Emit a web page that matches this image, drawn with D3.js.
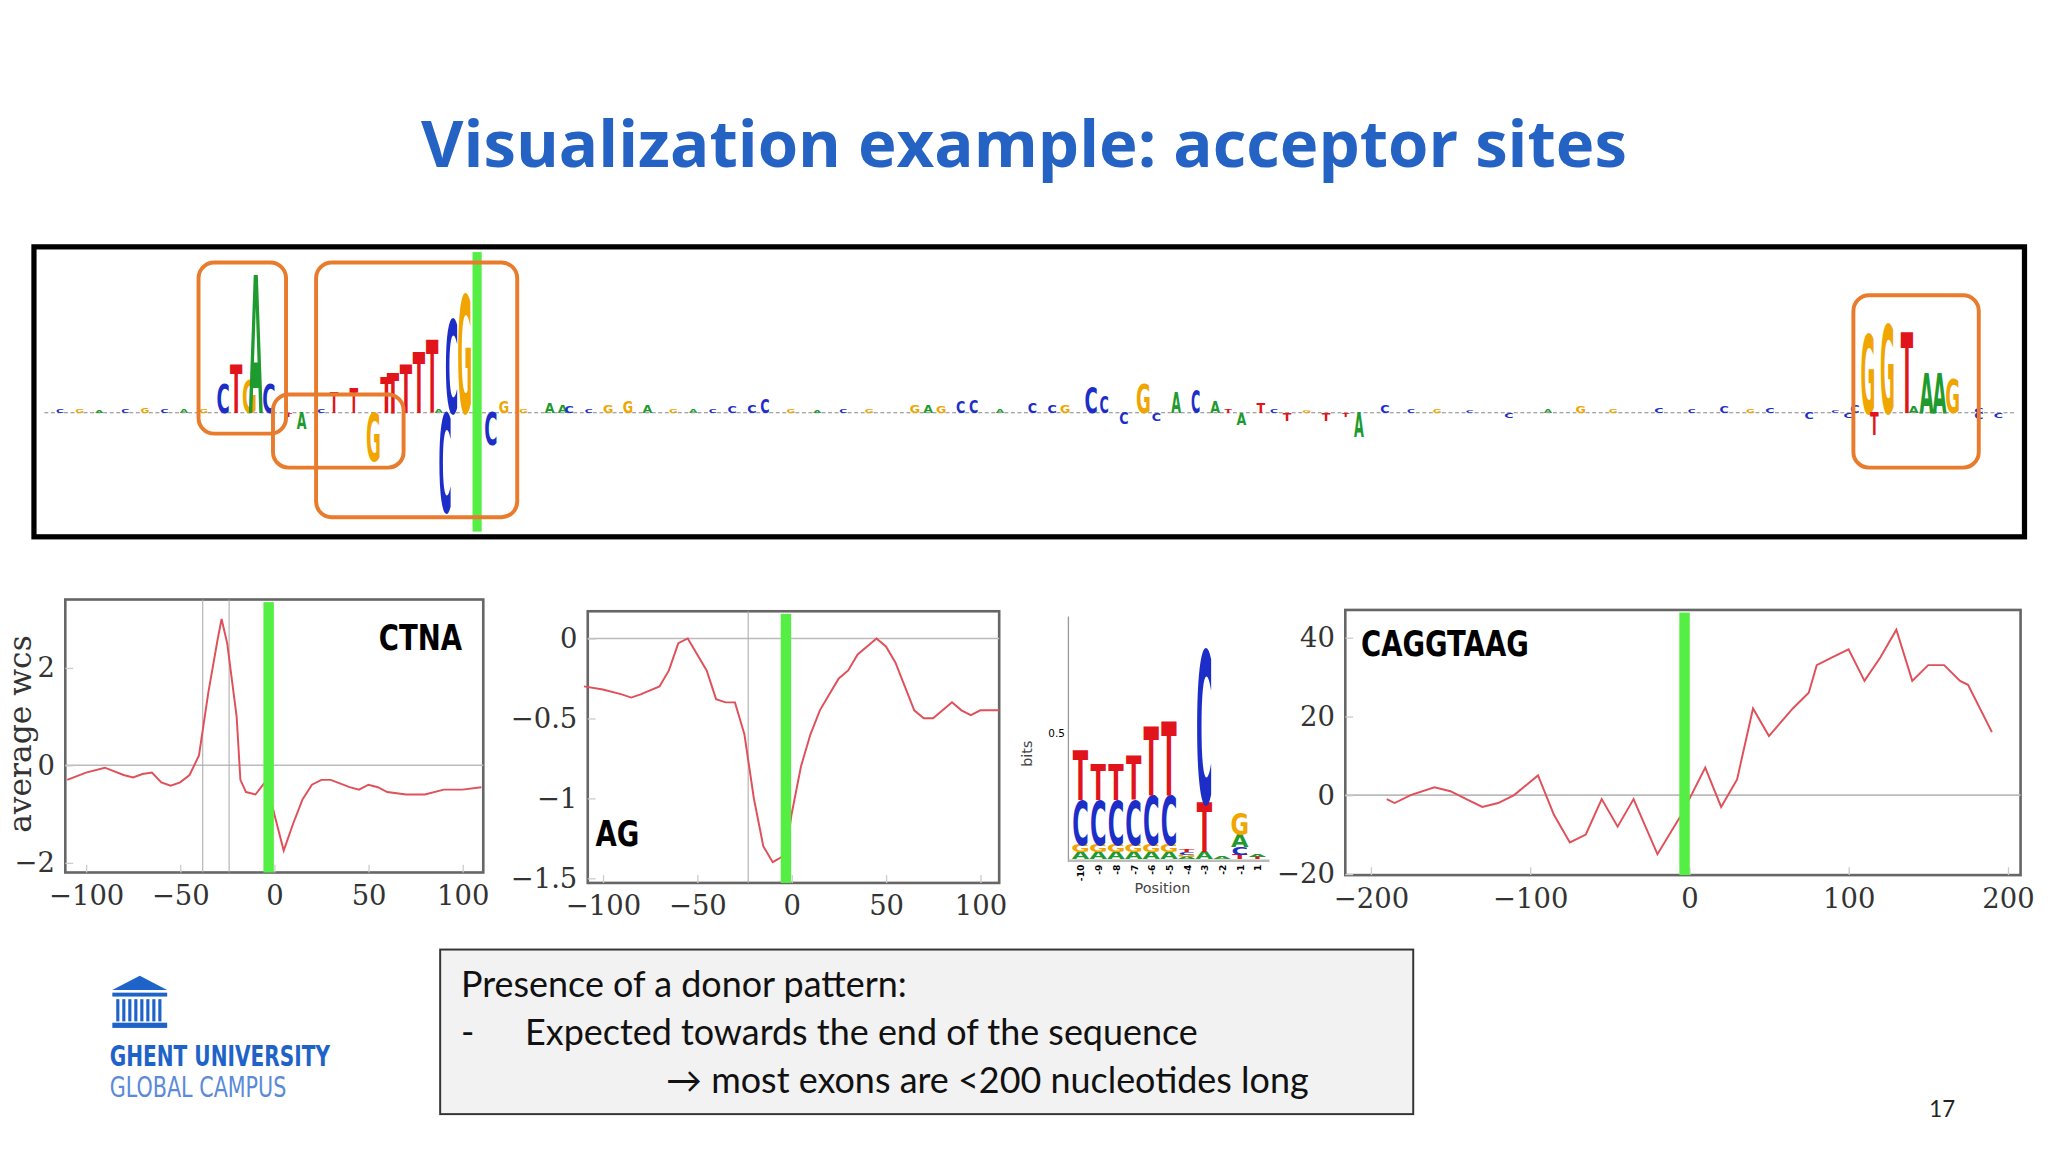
<!DOCTYPE html>
<html><head><meta charset="utf-8">
<script src="https://cdn.jsdelivr.net/npm/d3@7"></script>
<style>body{margin:0;background:#fff}svg{display:block}</style>
</head><body>
<svg id="s" width="2048" height="1152" viewBox="0 0 1568 882"></svg>
<script>
// ---------- data ----------
const title = "Visualization example: acceptor sites";
// top sequence logo: position (nt index), letter, height (bits; negative = below line)
const logoPos    = [27,29,31,32,34,39,44,47,50,52,53,55,57,59,62,64,61,68,70,77,79,80,86,89,92,105,108,110,133,135,137,140,142,151,154,156,160,162,165,168,170,173,176,179,183,186,190,196,201,205,224,235,247,257,264,270,276,286,296,299,279,282,285,288,290,292,277,280,296];
const logoLetter = ["C","T","G","A","C","A","T","T","G","T","T","T","T","T","C","G","C","C","G","A","A","C","G","G","A","C","C","C","G","A","G","C","C","C","C","G","C","C","C","G","C","A","C","A","A","T","T","T","A","C","C","G","C","C","C","C","C","A","C","C","G","G","T","A","A","G","C","T","C"];
const logoBits   = [0.35,0.6,0.4,1.7,0.35,-0.2,0.25,0.3,-0.6,0.45,0.5,0.6,0.75,0.9,1.15,1.45,-1.22,-0.4,0.15,0.12,0.1,0.08,0.1,0.14,0.1,0.08,0.1,0.18,0.1,0.1,0.08,0.15,0.16,0.12,0.1,0.1,0.32,0.2,-0.14,0.35,-0.1,0.25,0.28,0.15,-0.15,0.13,-0.1,-0.1,-0.3,0.1,-0.06,0.08,0.06,0.08,0.06,-0.08,-0.06,0.08,0.06,-0.06,0.98,1.1,1.0,0.5,0.5,0.42,0.1,-0.28,-0.08];
const fillPos = [2,5,8,12,15,18,21,24,37,42,60,73,83,96,99,102,114,118,122,126,146,181,188,193,199,209,213,218,230,240,252,261,274,289];
const fillLet = ["C","G","A","C","G","C","A","G","T","C","A","G","C","G","A","C","G","A","C","G","A","T","C","G","T","C","G","C","A","G","C","G","C","A"];
const fillBits = [0.04,0.05,0.03,0.05,0.06,0.04,0.05,0.04,-0.05,0.04,0.04,0.05,0.04,0.05,0.04,0.05,0.04,0.03,0.05,0.04,0.04,0.05,0.04,0.03,-0.05,0.04,0.05,0.03,0.04,0.04,0.05,0.04,0.03,0.04];

const ctnaX = [-110,-100,-90,-80,-75,-70,-65,-60,-55,-50,-45,-40,-35,-30,-28,-25,-20,-18,-15,-10,-5,-3,0,5,10,15,20,25,30,40,45,50,55,60,70,80,90,100,110];
const ctnaY = [-0.3,-0.15,-0.05,-0.2,-0.25,-0.18,-0.15,-0.35,-0.42,-0.35,-0.2,0.2,1.5,2.6,3.0,2.5,1.0,-0.3,-0.55,-0.6,-0.35,-0.5,-1.0,-1.75,-1.2,-0.7,-0.4,-0.3,-0.3,-0.45,-0.5,-0.4,-0.45,-0.55,-0.6,-0.6,-0.5,-0.5,-0.45];
const agX = [-110,-100,-90,-85,-80,-70,-65,-60,-55,-50,-45,-40,-35,-30,-25,-20,-15,-10,-7,-3,0,5,10,15,20,25,30,35,40,45,50,55,60,65,70,75,80,85,90,95,100,110];
const agY = [-0.3,-0.32,-0.35,-0.37,-0.35,-0.3,-0.2,-0.03,0,-0.1,-0.2,-0.38,-0.4,-0.4,-0.6,-1.0,-1.3,-1.4,-1.38,-1.35,-1.1,-0.8,-0.6,-0.45,-0.35,-0.25,-0.2,-0.1,-0.05,0,-0.05,-0.15,-0.3,-0.45,-0.5,-0.5,-0.45,-0.4,-0.45,-0.48,-0.45,-0.45];
const donX = [-190,-185,-175,-160,-150,-140,-130,-120,-110,-95,-85,-75,-65,-55,-45,-35,-20,-5,10,20,30,40,50,65,75,80,90,100,110,120,130,140,150,160,170,175,190];
const donY = [-1,-2,0,2,1,-1,-3,-2,0,5,-5,-12,-10,-1,-8,-1,-15,-5,7,-3,4,22,15,22,26,33,35,37,29,35,42,29,33,33,29,28,16];
// small logo (positions -10..-1, 1)
const sPos = ["-10","-9","-8","-7","-6","-5","-4","-3","-2","-1","1"];
const sStacks = [
 [["A",0.03],["G",0.03],["C",0.18],["T",0.2]],
 [["A",0.03],["G",0.03],["C",0.18],["T",0.15]],
 [["A",0.03],["G",0.03],["C",0.18],["T",0.15]],
 [["A",0.03],["G",0.03],["C",0.18],["T",0.18]],
 [["A",0.03],["G",0.03],["C",0.2],["T",0.28]],
 [["A",0.03],["G",0.03],["C",0.2],["T",0.3]],
 [["A",0.01],["G",0.01],["C",0.01],["T",0.01]],
 [["A",0.03],["T",0.2],["C",0.62]],
 [["A",0.01]],
 [["T",0.02],["C",0.03],["A",0.05],["G",0.09]],
 [["T",0.01],["A",0.01]]];

const colors = {A:"#1e9a2e",C:"#1d2ec8",G:"#f0a500",T:"#e0141a"};
const svg = d3.select("#s");

// ---------- title ----------
svg.append("text").attr("x",784).attr("y",128).attr("text-anchor","middle")
 .attr("font-family","Open Sans, Noto Sans, sans-serif").attr("font-weight","700").attr("font-size",50)
 .attr("fill","#2462c4").text(title);

// ---------- top logo ----------
svg.append("rect").attr("x",26).attr("y",189).attr("width",1524).attr("height",222).attr("fill","#fff").attr("stroke","#000").attr("stroke-width",4);
const xs = d3.scaleLinear().domain([0,301]).range([36,1540]);
const hs = d3.scaleLinear().domain([0,1]).range([0,62]);
const base = 316;
svg.append("line").attr("x1",34).attr("x2",1542).attr("y1",base).attr("y2",base).attr("stroke","#888").attr("stroke-width",0.8).attr("stroke-dasharray","3,2");
function letter(g,ch,x,yBase,w,h){ // yBase = bottom of letter
  if(h<0.5) h=0.5;
  g.append("text").attr("text-anchor","middle").attr("font-family","DejaVu Sans, sans-serif").attr("font-weight","700")
   .attr("font-size",100).attr("fill",colors[ch])
   .attr("transform",`translate(${x},${yBase}) scale(${w/72},${h/73})`).text(ch);
}
const lg = svg.append("g");
fillPos.forEach((p,i)=>{const h=hs(Math.abs(fillBits[i]));letter(lg,fillLet[i],xs(p),fillBits[i]>0?base:base+h,6,h);});
logoPos.forEach((p,i)=>{const b=logoBits[i];const h=hs(Math.abs(b));
  letter(lg,logoLetter[i],xs(p),b>0?base:base+h,Math.abs(b)>0.3?10:7,h);});
svg.append("rect").attr("x",xs(65.8)-3).attr("y",193).attr("width",7).attr("height",214).attr("fill","#55ee44");
const orange = "#e87b2c";
[[152,201,67,131],[209,302,100,56],[242,201,154,195],[1419,226,96,132]].forEach(b=>
 svg.append("rect").attr("x",b[0]).attr("y",b[1]).attr("width",b[2]).attr("height",b[3]).attr("rx",12)
  .attr("fill","none").attr("stroke",orange).attr("stroke-width",3));

// ---------- line plots ----------
const serif = "DejaVu Serif, Liberation Serif, serif";
function condensed(sel,sx){ // horizontal squeeze of a text
  const x=+sel.attr("x"), y=+sel.attr("y");
  sel.attr("x",0).attr("y",0).attr("transform",`translate(${x},${y}) scale(${sx},1)`);
}
function plot(o){
  const g = svg.append("g");
  const x = d3.scaleLinear().domain(o.xd).range([o.x0,o.x1]);
  const y = d3.scaleLinear().domain(o.yd).range([o.y1,o.y0]);
  g.append("rect").attr("x",o.x0).attr("y",o.y0).attr("width",o.x1-o.x0).attr("height",o.y1-o.y0).attr("fill","#fff").attr("stroke","#666").attr("stroke-width",2);
  g.append("line").attr("x1",o.x0).attr("x2",o.x1).attr("y1",y(0)).attr("y2",y(0)).attr("stroke","#bbb").attr("stroke-width",1.2);
  (o.vl||[]).forEach(v=>g.append("line").attr("x1",x(v)).attr("x2",x(v)).attr("y1",o.y0).attr("y2",o.y1).attr("stroke","#aaa").attr("stroke-width",0.8));
  const ax = g.append("g").attr("transform",`translate(0,${o.y1})`).call(d3.axisBottom(x).tickValues(o.xt).tickSize(-6).tickPadding(10).tickFormat(d=>d<0?"\u2212"+(-d):d));
  const ay = g.append("g").attr("transform",`translate(${o.x0},0)`).call(d3.axisLeft(y).tickValues(o.yt).tickSize(-6).tickPadding(8).tickFormat(d=>d<0?"\u2212"+(-d):d));
  [ax,ay].forEach(a=>{a.select(".domain").remove();a.selectAll("line").attr("stroke","#ccc");
    a.selectAll("text").attr("font-family",serif).attr("font-size",21).attr("fill","#333");});
  const xv = o.xv.filter(v=>v<=o.xd[1]);
  g.append("path").datum(xv.map((v,i)=>[v,o.yv[i]])).attr("fill","none").attr("stroke","#e0505a").attr("stroke-width",1.5)
   .attr("d",d3.line().x(d=>x(d[0])).y(d=>y(d[1])));
  g.append("rect").attr("x",x(o.gx)-4).attr("y",o.y0+2).attr("width",8).attr("height",o.y1-o.y0-2).attr("fill","#55ee44");
  const t = g.append("text").attr("x",o.lx).attr("y",o.ly).attr("font-family","DejaVu Sans, sans-serif")
   .attr("font-weight","700").attr("font-size",27).attr("fill","#000").text(o.label);
  condensed(t,0.78);
}
plot({x0:50,x1:370,y0:459,y1:668,xd:[-111,111],yd:[-2.2,3.4],xt:[-100,-50,0,50,100],yt:[-2,0,2],
  xv:ctnaX,yv:ctnaY,gx:-3,vl:[-38,-24],label:"CTNA",lx:290,ly:498});
plot({x0:450,x1:765,y0:468,y1:676,xd:[-108,110],yd:[-1.53,0.17],xt:[-100,-50,0,50,100],yt:[-1.5,-1,-0.5,0],
  xv:agX,yv:agY,gx:-3,vl:[-23],label:"AG",lx:456,ly:648});
plot({x0:1030,x1:1547,y0:467,y1:670,xd:[-216,208],yd:[-20.3,47],xt:[-200,-100,0,100,200],yt:[-20,0,20,40],
  xv:donX,yv:donY,gx:-3,label:"CAGGTAAG",lx:1042,ly:502});
svg.append("text").attr("transform","translate(24,562) rotate(-90)").attr("text-anchor","middle").attr("font-family",serif)
 .attr("font-size",24).attr("fill","#333").text("average wcs");

// ---------- small logo ----------
const sg = svg.append("g");
const sx = d3.scaleBand().domain(sPos).range([820,970]).padding(0.08);
const sy = d3.scaleLinear().domain([0,1]).range([658,470]);
sg.append("line").attr("x1",818).attr("x2",818).attr("y1",472).attr("y2",660).attr("stroke","#999");
sg.append("line").attr("x1",818).attr("x2",972).attr("y1",659).attr("y2",659).attr("stroke","#bbb").attr("stroke-width",2);
sg.append("text").attr("x",809).attr("y",564).attr("font-size",8).attr("font-family","DejaVu Sans").attr("text-anchor","middle").text("0.5");
sg.append("text").attr("transform","translate(790,577) rotate(-90)").attr("font-size",11).attr("font-family","DejaVu Sans").attr("text-anchor","middle").attr("fill","#444").text("bits");
sStacks.forEach((st,i)=>{let acc=0;st.forEach(([ch,b])=>{const yb=sy(acc);acc+=b;letter(sg,ch,sx(sPos[i])+sx.bandwidth()/2,yb,sx.bandwidth(),yb-sy(acc));});
  sg.append("text").attr("transform",`translate(${sx(sPos[i])+sx.bandwidth()/2+3},662) rotate(-90)`).attr("text-anchor","end")
   .attr("font-size",7).attr("font-family","DejaVu Sans").attr("font-weight","700").text(sPos[i]);});
sg.append("text").attr("x",890).attr("y",684).attr("text-anchor","middle").attr("font-size",11).attr("font-family","DejaVu Sans").attr("fill","#444").text("Position");

// ---------- text box ----------
svg.append("rect").attr("x",337).attr("y",727).attr("width",745).attr("height",126).attr("fill","#f2f2f2").attr("stroke","#333").attr("stroke-width",1.5);
const tf = "Lato, Open Sans, sans-serif";
[["Presence of a donor pattern:",353,763],["-",353,800],["Expected towards the end of the sequence",402,800],["\u2192 most exons are <200 nucleotides long",510,837]]
 .forEach(t=>svg.append("text").attr("x",t[1]).attr("y",t[2]).attr("font-family",tf).attr("font-size",27.5).attr("fill","#111").text(t[0]));

// ---------- Ghent logo ----------
const lgG = svg.append("g").attr("fill","#1e64c8");
lgG.append("path").attr("d","M86,758 L107,747 L128,758 Z");
lgG.append("rect").attr("x",86).attr("y",760).attr("width",42).attr("height",3);
for(let i=0;i<8;i++) lgG.append("rect").attr("x",89+i*4.6).attr("y",765).attr("width",2.4).attr("height",17);
lgG.append("rect").attr("x",86).attr("y",783).attr("width",42).attr("height",4);
condensed(svg.append("text").attr("x",84).attr("y",816).attr("font-family","DejaVu Sans").attr("font-weight","700").attr("font-size",22).attr("fill","#1e64c8").text("GHENT UNIVERSITY"),0.7);
condensed(svg.append("text").attr("x",84).attr("y",840).attr("font-family","DejaVu Sans").attr("font-size",22).attr("fill","#5a8ad8").text("GLOBAL CAMPUS"),0.72);
svg.append("text").attr("x",1487).attr("y",855).attr("text-anchor","middle").attr("font-family",tf).attr("font-size",17).attr("fill","#222").text("17");
</script></body></html>
